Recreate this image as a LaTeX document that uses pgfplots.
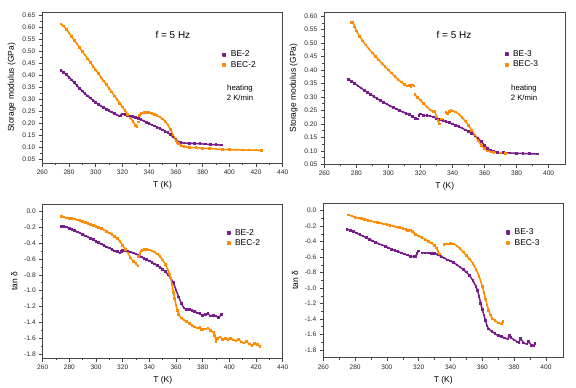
\documentclass[border=0pt]{standalone}
\usepackage{fontspec}
\setmainfont{Liberation Sans}
\usepackage{pgfplots}
\pgfplotsset{compat=1.18}
\definecolor{cpur}{RGB}{120,30,140}
\definecolor{corg}{RGB}{255,140,0}
\definecolor{axgray}{RGB}{70,70,70}
\pgfplotsset{
  panel/.style={
    scale only axis,
    axis line style={axgray, line width=0.6pt},
    tick align=outside, tick pos=left,
    major tick length=3.5bp, minor tick length=2bp,
    every tick/.style={axgray, line width=0.5pt},
    minor tick num=1,
    tick label style={font=\fontsize{6.6}{7}\selectfont, text=black!85},
    /pgf/number format/assume math mode=true,
    label style={font=\fontsize{8.5}{9}\selectfont},
    xlabel={T (K)},
    unbounded coords=jump,
    legend cell align=left,
    legend image code/.code={\fill[##1] (0bp,-1.3bp) rectangle (2.6bp,1.3bp);},
    legend style={draw=none, fill=none, inner sep=0pt, row sep=0pt, column sep=3bp,
      font=\fontsize{8.5}{9}\selectfont,
      nodes={inner sep=1.45bp, text height=6bp, text depth=1.5bp}},
  },
  pur/.style={cpur, line width=1.5pt, line join=round, mark=square*, mark size=0.8pt, mark options={line width=0pt, fill=cpur, draw=none}},
  org/.style={corg, line width=1.5pt, line join=round, mark=square*, mark size=0.8pt, mark options={line width=0pt, fill=corg, draw=none}},
}
\begin{document}
\begin{tikzpicture}
\path[use as bounding box] (0,0) rectangle (576bp,-388bp);

% ---------------- Panel 1 ----------------
\begin{axis}[panel,
  at={(42.3bp,-163bp)}, anchor=south west,
  width=240.4bp, height=151bp,
  xmin=260, xmax=440, ymin=0.0333, ymax=0.665,
  xtick={260,280,...,440},
  ytick={0.05,0.10,...,0.66},
  yticklabel style={/pgf/number format/.cd, fixed, fixed zerofill, precision=2},
  ylabel={Storage modulus (GPa)},
  legend style={at={(0.748,0.754)}, anchor=north west},
]
\addplot[pur] coordinates {
(274,0.420)(276,0.413)(278,0.403)(280,0.392)(282,0.381)(284,0.369)(286,0.357)(288,0.345)(290,0.334)(292,0.323)(294,0.314)(296,0.305)(298,0.296)(300,0.287)(302,0.279)(304,0.272)(306,0.265)(308,0.258)(310,0.252)(312,0.246)(314,0.240)(316,0.234)(318,0.230)(319,0.232)(320,0.238)(322,0.236)(324,0.232)(326,0.229)(328,0.227)(330,0.224)(332,0.220)(334,0.215)(336,0.209)(338,0.203)(340,0.198)(342,0.193)(344,0.188)(346,0.183)(348,0.178)(350,0.172)(352,0.166)(354,0.160)(356,0.152)(358,0.142)(360,0.132)(362,0.122)(364,0.118)(366,0.117)(370,0.116)(374,0.115)(378,0.114)(382,0.112)(386,0.111)(390,0.110)(394,0.108)
};
\addlegendentry{BE-2}
\addplot[org] coordinates {
(274,0.615)(276,0.606)(278,0.593)(280,0.578)(282,0.562)(284,0.547)(286,0.531)(288,0.516)(290,0.500)(292,0.485)(294,0.469)(296,0.454)(298,0.438)(300,0.423)(302,0.407)(304,0.392)(306,0.376)(308,0.361)(310,0.345)(312,0.330)(314,0.314)(316,0.299)(318,0.283)(320,0.268)(322,0.252)(324,0.237)(326,0.221)(328,0.206)(330,0.190)(331,0.185)(331.5,nan)(332,0.205)(332.5,nan)
(333,0.232)(334,0.240)(336,0.244)(338,0.245)(340,0.244)(342,0.240)(344,0.236)(346,0.231)(348,0.225)(350,0.218)(352,0.208)(354,0.193)(356,0.173)(358,0.150)(360,0.128)(361,0.120)(362,0.114)(364,0.106)(366,0.102)(370,0.098)(375,0.097)(380,0.095)(385,0.094)(390,0.092)(395,0.090)(400,0.089)(405,0.088)(410,0.088)(415,0.087)(420,0.087)(424,0.085)
};
\addlegendentry{BEC-2}
\node[font=\fontsize{10}{11}\selectfont] at (axis cs:357.8,0.569) {f = 5 Hz};
\node[font=\fontsize{7.8}{9.5}\selectfont, align=center] at (axis cs:408,0.328) {heating\\2 K/min};
\end{axis}

% ---------------- Panel 2 ----------------
\begin{axis}[panel,
  at={(324.3bp,-164.3bp)}, anchor=south west,
  width=241bp, height=152.3bp,
  xmin=260, xmax=410.4, ymin=0.05, ymax=0.615,
  xtick={260,280,...,400},
  ytick={0.05,0.10,...,0.61},
  yticklabel style={/pgf/number format/.cd, fixed, fixed zerofill, precision=2},
  ylabel={Storage modulus (GPa)},
  legend style={at={(0.747,0.758)}, anchor=north west},
]
\addplot[pur] coordinates {
(275,0.365)(277,0.358)(279,0.350)(281,0.341)(283,0.333)(285,0.324)(287,0.317)(289,0.309)(291,0.301)(293,0.294)(295,0.287)(297,0.280)(299,0.273)(301,0.267)(303,0.261)(305,0.255)(307,0.249)(309,0.244)(311,0.239)(313,0.234)(315,0.228)(317,0.221)(318,0.218)(318.5,nan)(319,0.230)(320,0.236)(321,nan)
(322,0.230)(324,0.231)(326,0.229)(328,0.226)(330,0.220)(332,0.216)(334,0.212)(336,0.208)(338,0.204)(340,0.200)(342,0.195)(344,0.190)(346,0.184)(348,0.178)(350,0.172)(352,0.165)(354,0.157)(356,0.146)(358,0.134)(360,0.120)(362,0.108)(364,0.101)(366,0.097)(368,0.094)(372,0.093)(376,0.092)(380,0.091)(384,0.090)(388,0.089)(393,0.088)
};
\addlegendentry{BE-3}
\addplot[org] coordinates {
(277,0.577)(278,0.576)(279,0.560)(280,0.545)(282,0.525)(284,0.508)(286,0.492)(288,0.477)(290,0.463)(292,0.450)(294,0.437)(296,0.424)(298,0.412)(300,0.400)(302,0.388)(304,0.376)(306,0.365)(308,0.355)(310,0.345)(312,0.340)(313,0.343)(314,0.338)(315,0.344)(316,0.340)(316.3,nan)
(316.5,0.310)(318,0.298)(320,0.288)(322,0.276)(324,0.263)(326,0.252)(328,0.245)(329,0.246)(330,0.225)(331,0.212)(332,0.200)(332.5,nan)(333,0.218)(334,nan)
(336,0.242)(337,0.238)(338,0.245)(339,0.250)(340,0.248)(342,0.244)(344,0.236)(346,0.224)(348,0.210)(350,0.194)(352,0.176)(354,0.158)(356,0.138)(358,0.120)(360,0.108)(362,0.100)(364,0.096)(366,0.094)(370,0.092)(373,0.091)
};
\addlegendentry{BEC-3}
\node[font=\fontsize{10}{11}\selectfont] at (axis cs:340.9,0.530) {f = 5 Hz};
\node[font=\fontsize{7.8}{9.5}\selectfont, align=center] at (axis cs:384.6,0.316) {heating\\2 K/min};
\end{axis}

% ---------------- Panel 3 ----------------
\begin{axis}[panel,
  at={(42.7bp,-358.3bp)}, anchor=south west,
  width=240bp, height=154.3bp,
  xmin=260, xmax=440, ymin=-1.85, ymax=0.09,
  xtick={260,280,...,440},
  ytick={-1.8,-1.6,...,0.01},
  yticklabel style={/pgf/number format/.cd, fixed, fixed zerofill, precision=1},
  ylabel={tan δ},
  legend style={at={(0.765,0.848)}, anchor=north west},
]
\addplot[pur] coordinates {
(274,-0.19)(276,-0.195)(278,-0.20)(280,-0.215)(282,-0.23)(284,-0.245)(286,-0.26)(288,-0.275)(290,-0.29)(292,-0.31)(294,-0.325)(296,-0.345)(298,-0.36)(300,-0.38)(302,-0.395)(304,-0.415)(306,-0.43)(308,-0.45)(310,-0.465)(312,-0.48)(314,-0.50)(316,-0.51)(318,-0.525)(319,-0.51)(320,-0.495)(322,-0.50)(324,-0.505)(326,-0.515)(328,-0.525)(330,-0.54)(332,-0.555)(334,-0.575)(336,-0.595)(338,-0.61)(340,-0.625)(342,-0.645)(344,-0.665)(346,-0.685)(348,-0.705)(350,-0.73)(352,-0.76)(354,-0.795)(356,-0.84)(358,-0.90)(360,-0.99)(362,-1.08)(364,-1.16)(366,-1.22)(368,-1.24)(370,-1.24)(372,-1.25)(374,-1.26)(376,-1.28)(378,-1.29)(380,-1.31)(382,-1.30)(384,-1.29)(386,-1.32)(388,-1.31)(390,-1.32)(392,-1.34)(394,-1.30)
};
\addlegendentry{BE-2}
\addplot[org] coordinates {
(274,-0.065)(276,-0.075)(278,-0.085)(280,-0.09)(282,-0.095)(284,-0.10)(286,-0.11)(288,-0.12)(290,-0.13)(292,-0.145)(294,-0.155)(296,-0.165)(298,-0.18)(300,-0.19)(302,-0.205)(304,-0.22)(306,-0.235)(308,-0.255)(310,-0.275)(312,-0.295)(314,-0.32)(316,-0.345)(318,-0.38)(320,-0.43)(322,-0.48)(324,-0.525)(326,-0.59)(328,-0.63)(330,-0.66)(331.5,-0.69)(331.8,nan)
(332,-0.57)(333,-0.53)(334,-0.50)(335,-0.49)(336,-0.485)(338,-0.485)(340,-0.49)(342,-0.50)(344,-0.515)(346,-0.54)(348,-0.57)(350,-0.615)(352,-0.67)(354,-0.74)(355,-0.79)(356,-0.84)(357,-0.92)(358,-1.02)(359,-1.10)(360,-1.18)(361,-1.25)(362,-1.30)(364,-1.345)(366,-1.37)(368,-1.39)(370,-1.41)(372,-1.435)(374,-1.455)(376,-1.47)(378,-1.46)(379,-1.49)(380,-1.49)(382,-1.48)(384,-1.47)(386,-1.50)(388,-1.52)(389,-1.56)(390,-1.64)(391,-1.60)(393,-1.58)(395,-1.61)(397,-1.60)(399,-1.615)(401,-1.60)(403,-1.62)(405,-1.63)(407,-1.61)(409,-1.645)(411,-1.66)(413,-1.64)(415,-1.67)(417,-1.69)(419,-1.665)(421,-1.68)(423,-1.70)
};
\addlegendentry{BEC-2}
\end{axis}

% ---------------- Panel 4 ----------------
\begin{axis}[panel,
  at={(323.3bp,-357.7bp)}, anchor=south west,
  width=240bp, height=154.4bp,
  xmin=260, xmax=410.9, ymin=-1.9, ymax=0.095,
  xtick={260,280,...,400},
  ytick={-1.8,-1.6,...,0.01},
  yticklabel style={/pgf/number format/.cd, fixed, fixed zerofill, precision=1},
  ylabel={tan δ},
  legend style={at={(0.761,0.846)}, anchor=north west},
]
\addplot[pur] coordinates {
(275,-0.24)(277,-0.255)(279,-0.27)(281,-0.29)(283,-0.31)(285,-0.33)(287,-0.35)(289,-0.37)(291,-0.39)(293,-0.41)(295,-0.43)(297,-0.445)(299,-0.46)(301,-0.48)(303,-0.50)(305,-0.515)(307,-0.53)(309,-0.545)(311,-0.56)(313,-0.575)(315,-0.59)(317,-0.595)(318,-0.59)(319,-0.55)(320,-0.52)(321,nan)
(322,-0.545)(324,-0.545)(326,-0.545)(328,-0.55)(330,-0.555)(332,-0.57)(334,-0.59)(336,-0.61)(338,-0.635)(340,-0.65)(342,-0.67)(344,-0.70)(346,-0.73)(348,-0.76)(350,-0.795)(352,-0.84)(354,-0.90)(356,-0.98)(357,-1.03)(358,-1.11)(359,-1.20)(360,-1.28)(361,-1.35)(362,-1.42)(363,-1.49)(364,-1.53)(366,-1.56)(368,-1.59)(370,-1.615)(372,-1.625)(374,-1.645)(376,-1.66)(377,-1.615)(378,-1.64)(380,-1.67)(382,-1.695)(383,-1.705)(384,-1.65)(386,-1.71)(388,-1.725)(389,-1.69)(391,-1.745)(392,-1.75)(393,-1.72)
};
\addlegendentry{BE-3}
\addplot[org] coordinates {
(276,-0.055)(278,-0.07)(280,-0.085)(282,-0.095)(284,-0.105)(286,-0.115)(288,-0.125)(290,-0.135)(292,-0.145)(294,-0.15)(296,-0.16)(298,-0.17)(300,-0.18)(302,-0.19)(304,-0.20)(306,-0.21)(308,-0.22)(310,-0.23)(312,-0.24)(313,-0.255)(314,-0.265)(315,-0.25)(316,-0.27)(316.5,nan)
(317,-0.29)(318,-0.31)(320,-0.33)(322,-0.35)(324,-0.37)(326,-0.395)(328,-0.42)(330,-0.45)(331,-0.48)(332,-0.52)(333,-0.56)(334,nan)
(336,-0.44)(337,-0.43)(338,-0.43)(340,-0.425)(342,-0.43)(344,-0.455)(346,-0.49)(348,-0.535)(350,-0.58)(352,-0.625)(354,-0.68)(356,-0.76)(358,-0.85)(360,-0.98)(361,-1.06)(362,-1.14)(363,-1.22)(364,-1.29)(365,-1.35)(366,-1.39)(368,-1.42)(370,-1.45)(372,-1.465)(373,-1.43)
};
\addlegendentry{BEC-3}
\end{axis}
\end{tikzpicture}
\end{document}
